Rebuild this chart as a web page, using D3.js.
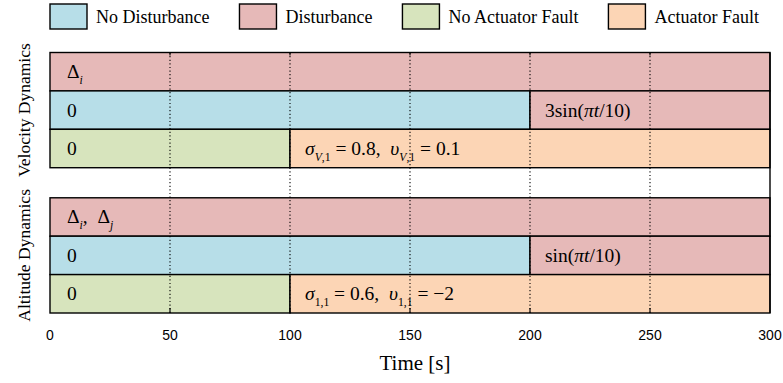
<!DOCTYPE html>
<html lang="en">
<head>
<meta charset="UTF-8">
<script src="https://d3js.org/d3.v7.min.js"></script>
<style>
  body { margin: 0; background: #fff; }
  .serif { font-family: "Liberation Serif", "Times New Roman", serif; fill: #000; }
  .cell { white-space: pre; }
  .tick-label { font-family: "Liberation Sans", Arial, sans-serif; font-size: 14px; fill: #000; }
</style>
</head>
<body>
<div id="chart"></div>
<script>
// ---- data ----
const timeTicks = [0, 50, 100, 150, 200, 250, 300];
const gridTimes = [50, 100, 150, 200, 250];
const legendLabels = ["No Disturbance", "Disturbance", "No Actuator Fault", "Actuator Fault"];
const groupLabels = ["Velocity Dynamics", "Altitude Dynamics"];
const rowIds = [0, 1, 2];

// label pieces: [text, kind]  kind: "" plain, "i" italic, "s" subscript, "si" italic subscript
const deltaI = [["Δ", ""], ["i", "si"]];
const deltaIJ = [["Δ", ""], ["i", "si"], [",  Δ", ""], ["j", "si"]];
const zeroLabel = [["0", ""]];
const velDist = [["3sin(", ""], ["πt", "i"], ["/10)", ""]];
const velFault = [["σ", "i"], ["V", "si"], [",1", "s"], [" = 0.8,  ", ""], ["υ", "i"], ["V", "si"], [",1", "s"], [" = 0.1", ""]];
const altDist = [["sin(", ""], ["πt", "i"], ["/10)", ""]];
const altFault = [["σ", "i"], ["1,1", "s"], [" = 0.6,  ", ""], ["υ", "i"], ["1,1", "s"], [" = −2", ""]];

// segments per group: [row, start, end, legend index, label]
const velocitySegments = [
  [0, 0, 300, 1, deltaI],
  [1, 0, 200, 0, zeroLabel],
  [1, 200, 300, 1, velDist],
  [2, 0, 100, 2, zeroLabel],
  [2, 100, 300, 3, velFault]
];
const altitudeSegments = [
  [0, 0, 300, 1, deltaIJ],
  [1, 0, 200, 0, zeroLabel],
  [1, 200, 300, 1, altDist],
  [2, 0, 100, 2, zeroLabel],
  [2, 100, 300, 3, altFault]
];

const colors = ["#b7dee8", "#e6b9b8", "#d7e4bd", "#fcd5b5"];

// ---- layout ----
const W = 783, H = 383;
const svg = d3.select("#chart").append("svg")
  .attr("width", W).attr("height", H);

const x = d3.scaleLinear().domain([0, 300]).range([50, 770]);
const yTop = 52.5, yBottom = 313;
const gy = d3.scaleBand().domain(groupLabels).range([yTop, yBottom]).paddingInner(0.207);
const ry = d3.scaleBand().domain(rowIds).range([0, gy.bandwidth()]);

function drawLabel(sel, parts, fs) {
  let shifted = false;
  parts.forEach(p => {
    const kind = p[1];
    const sub = kind === "s" || kind === "si";
    const t = sel.append("tspan").text(p[0]);
    if (kind === "i" || kind === "si") t.attr("font-style", "italic");
    if (sub) {
      t.attr("font-size", fs * 0.6);
      if (!shifted) { t.attr("dy", fs * 0.3); shifted = true; }
    } else if (shifted) {
      t.attr("dy", -fs * 0.3); shifted = false;
    }
  });
}

const groupData = [velocitySegments, altitudeSegments];
const cellFs = 19.5;

groupLabels.forEach((name, gi) => {
  const g = svg.append("g").attr("transform", `translate(0,${gy(name)})`);
  const segs = groupData[gi];

  g.selectAll("rect.seg")
    .data(segs)
    .join("rect")
    .attr("class", "seg")
    .attr("x", d => x(d[1]))
    .attr("y", d => ry(d[0]))
    .attr("width", d => x(d[2]) - x(d[1]))
    .attr("height", ry.bandwidth())
    .attr("fill", d => colors[d[3]])
    .attr("stroke", "#000")
    .attr("stroke-width", 1.4);

  g.selectAll("text.cell")
    .data(segs)
    .join("text")
    .attr("class", "cell serif")
    .attr("x", d => x(d[1]) + (d[1] === 0 ? 17 : 15))
    .attr("y", d => ry(d[0]) + ry.bandwidth() / 2 + 6.5)
    .attr("font-size", cellFs)
    .each(function(d) { drawLabel(d3.select(this), d[4], cellFs); });

  // group label
  svg.append("text")
    .attr("class", "serif")
    .attr("font-size", 17.5)
    .attr("text-anchor", "middle")
    .attr("transform", `translate(30,${gy(name) + gy.bandwidth() / 2}) rotate(-90)`)
    .text(name);
});

// right spine through the gap
svg.append("line")
  .attr("x1", x(300)).attr("x2", x(300))
  .attr("y1", yTop).attr("y2", yBottom)
  .attr("stroke", "#000").attr("stroke-width", 1.4);

// dotted grid
svg.selectAll("line.grid")
  .data(gridTimes)
  .join("line")
  .attr("class", "grid")
  .attr("x1", d => x(d)).attr("x2", d => x(d))
  .attr("y1", yTop).attr("y2", yBottom)
  .attr("stroke", "#000")
  .attr("stroke-width", 1.1)
  .attr("stroke-dasharray", "1.2,2.4");

// ticks top and bottom
svg.selectAll("line.tb")
  .data(gridTimes)
  .join("line")
  .attr("class", "tb")
  .attr("x1", d => x(d)).attr("x2", d => x(d))
  .attr("y1", yBottom - 5).attr("y2", yBottom)
  .attr("stroke", "#000").attr("stroke-width", 1.1);
svg.selectAll("line.tt")
  .data(gridTimes)
  .join("line")
  .attr("class", "tt")
  .attr("x1", d => x(d)).attr("x2", d => x(d))
  .attr("y1", yTop).attr("y2", yTop + 3)
  .attr("stroke", "#000").attr("stroke-width", 1.1);

// x axis labels
svg.selectAll("text.tick-label")
  .data(timeTicks)
  .join("text")
  .attr("class", "tick-label")
  .attr("x", d => x(d))
  .attr("y", 340)
  .attr("text-anchor", "middle")
  .text(d => d);

svg.append("text")
  .attr("class", "serif")
  .attr("font-size", 21)
  .attr("x", (x(0) + x(300)) / 2 + 5)
  .attr("y", 370)
  .attr("text-anchor", "middle")
  .text("Time [s]");

// legend
const legend = svg.append("g");
let lx = 50;
legendLabels.forEach((lab, i) => {
  legend.append("rect")
    .attr("x", lx).attr("y", 4)
    .attr("width", 37).attr("height", 25)
    .attr("fill", colors[i])
    .attr("stroke", "#000").attr("stroke-width", 1.4);
  const t = legend.append("text")
    .attr("class", "serif")
    .attr("font-size", 18)
    .attr("x", lx + 46).attr("y", 23)
    .text(lab);
  lx = lx + 46 + t.node().getComputedTextLength() + 30;
});
</script>
</body>
</html>
